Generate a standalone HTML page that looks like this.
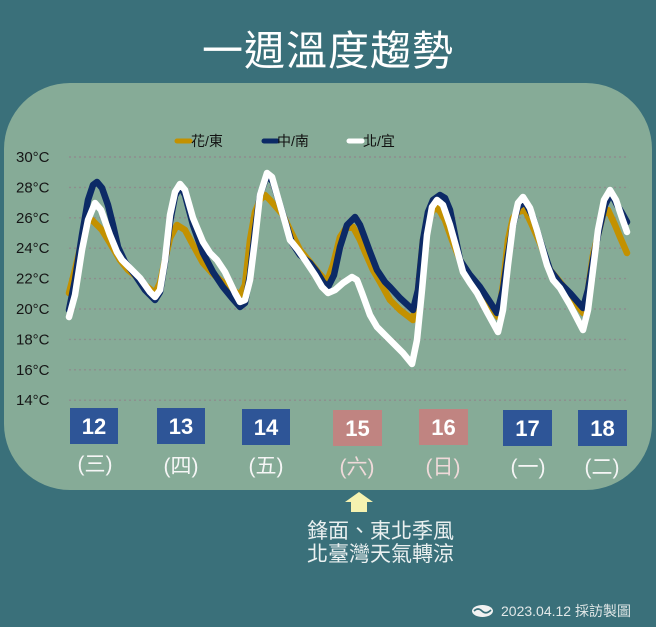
<!DOCTYPE html>
<html>
<head>
<meta charset="utf-8">
<style>
html,body{margin:0;padding:0;background:#3a707a;}
svg{display:block;}
</style>
</head>
<body>
<svg width="656" height="627" viewBox="0 0 656 627" xmlns="http://www.w3.org/2000/svg">
  <rect x="0" y="0" width="656" height="627" fill="#3a707a"/>
  <!-- title -->
  <text x="328" y="65" text-anchor="middle" fill="#ffffff" font-family="'Noto Sans CJK TC','Noto Sans CJK SC',sans-serif" font-size="41" font-weight="400" letter-spacing="1">一週溫度趨勢</text>
  <!-- panel -->
  <rect x="4" y="83" width="648" height="407" rx="66" ry="66" fill="#86ab97"/>

  <!-- legend -->
  <g font-family="'Liberation Sans','Noto Sans CJK TC',sans-serif" font-size="14" fill="#111">
    <line x1="177" y1="141" x2="190" y2="141" stroke="#c39100" stroke-width="5" stroke-linecap="round"/>
    <text x="191" y="146">花/東</text>
    <line x1="264" y1="141" x2="277" y2="141" stroke="#0c2a66" stroke-width="5" stroke-linecap="round"/>
    <text x="277" y="146">中/南</text>
    <line x1="349" y1="141" x2="362" y2="141" stroke="#ffffff" stroke-width="5" stroke-linecap="round"/>
    <text x="363" y="146">北/宜</text>
  </g>

  <!-- gridlines -->
  <g stroke="#8d8d8d" stroke-width="1.4" stroke-dasharray="2 3">
    <line x1="69" y1="157" x2="628" y2="157"/>
    <line x1="69" y1="187.4" x2="628" y2="187.4"/>
    <line x1="69" y1="217.8" x2="628" y2="217.8"/>
    <line x1="69" y1="248.2" x2="628" y2="248.2"/>
    <line x1="69" y1="278.6" x2="628" y2="278.6"/>
    <line x1="69" y1="309" x2="628" y2="309"/>
    <line x1="69" y1="339.4" x2="628" y2="339.4"/>
    <line x1="69" y1="369.8" x2="628" y2="369.8"/>
    <line x1="69" y1="400.2" x2="628" y2="400.2"/>
  </g>
  <!-- y labels -->
  <g font-family="'Liberation Sans',sans-serif" font-size="15" fill="#161616">
    <text x="16" y="162">30°C</text>
    <text x="16" y="192.4">28°C</text>
    <text x="16" y="222.8">26°C</text>
    <text x="16" y="253.2">24°C</text>
    <text x="16" y="283.6">22°C</text>
    <text x="16" y="314">20°C</text>
    <text x="16" y="344.4">18°C</text>
    <text x="16" y="374.8">16°C</text>
    <text x="16" y="405.2">14°C</text>
  </g>

  <!-- series -->
  <g fill="none" stroke-linejoin="round" stroke-linecap="round" stroke-width="6.5">
    <polyline stroke="#c39100" points="69,293 75,270 82,240 88,222 92,220 97,225 102,230 110,243 120,260 128,270 137,277 145,285 155,293 160,283 165,260 170,238 177,225 185,230 193,245 203,263 212,273 220,280 230,288 240,295 245,285 250,240 255,212 260,200 265,195 270,200 277,208 283,215 290,230 300,250 310,262 318,272 327,282 333,265 340,237 346,228 353,227 360,240 365,252 373,270 380,282 390,300 400,310 413,320 418,290 423,240 428,218 433,210 438,208 445,220 452,240 460,260 470,278 480,290 490,305 498,317 503,285 508,240 513,218 518,212 525,210 532,225 540,243 550,270 560,282 570,295 583,313 588,290 593,255 598,235 603,215 608,210 615,225 620,237 627,253"/>
    <polyline stroke="#0c2a66" points="69,310 75,280 82,235 88,200 93,185 97,182 102,188 108,205 113,225 118,247 125,262 135,275 145,290 155,300 160,292 165,262 170,222 175,196 180,186 185,195 193,225 203,253 213,272 223,287 232,298 240,307 245,303 250,275 255,230 260,195 267,175 273,182 280,205 292,243 300,255 310,263 317,272 323,282 328,287 334,275 340,247 347,225 355,217 360,225 363,233 370,252 377,270 385,282 390,287 400,298 413,310 418,290 423,240 428,212 433,200 440,195 445,198 450,210 455,235 460,260 470,275 480,287 490,302 497,313 503,290 508,255 513,225 518,207 525,202 533,217 540,240 550,270 560,283 570,293 583,308 588,290 593,260 598,235 605,205 611,193 617,205 622,213 627,222"/>
    <polyline stroke="#ffffff" points="69,317 75,295 82,250 88,220 95,203 101,210 110,235 117,252 122,260 132,270 140,278 150,292 155,297 160,290 165,260 170,215 175,192 180,184 185,190 193,218 203,242 210,253 217,260 225,272 235,293 240,302 245,300 250,280 255,240 260,195 267,173 272,177 278,198 285,222 290,240 298,250 305,260 315,275 322,287 328,293 335,290 343,283 352,277 357,280 362,293 370,315 377,327 385,335 393,343 403,353 412,364 417,340 422,290 427,235 432,207 437,200 443,205 450,225 457,250 463,272 470,283 477,293 487,312 498,332 503,310 508,265 513,225 518,203 523,197 530,208 537,230 547,265 553,280 560,288 570,305 583,330 588,310 593,270 598,230 604,200 610,190 616,200 622,218 627,232"/>
  </g>

  <!-- day boxes -->
  <g>
    <rect x="70" y="408" width="48" height="36" fill="#2e5597"/>
    <rect x="157" y="408" width="48" height="36" fill="#2e5597"/>
    <rect x="242" y="409" width="48" height="36" fill="#2e5597"/>
    <rect x="333" y="410" width="49" height="36" fill="#c08481"/>
    <rect x="419" y="409" width="49" height="36" fill="#c08481"/>
    <rect x="503" y="410" width="49" height="36" fill="#2e5597"/>
    <rect x="578" y="410" width="49" height="36" fill="#2e5597"/>
  </g>
  <g font-family="'Liberation Sans',sans-serif" font-size="22" font-weight="bold" fill="#ffffff" text-anchor="middle">
    <text x="94" y="434">12</text>
    <text x="181" y="434">13</text>
    <text x="266" y="435">14</text>
    <text x="357.5" y="436">15</text>
    <text x="443.5" y="435">16</text>
    <text x="527.5" y="436">17</text>
    <text x="602.5" y="436">18</text>
  </g>
  <g font-family="'Liberation Sans','Noto Sans CJK TC',sans-serif" font-size="21" text-anchor="middle">
    <text x="95" y="471" fill="#f6f6f6">(三)</text>
    <text x="181" y="473" fill="#f6f6f6">(四)</text>
    <text x="266" y="473" fill="#f6f6f6">(五)</text>
    <text x="357" y="474" fill="#f0dada">(六)</text>
    <text x="443" y="474" fill="#f0dada">(日)</text>
    <text x="528" y="474" fill="#f6f6f6">(一)</text>
    <text x="602" y="474" fill="#f6f6f6">(二)</text>
  </g>

  <!-- arrow -->
  <polygon points="345,502 359,492 373,502" fill="#f5f2b0"/>
  <rect x="351" y="501" width="16" height="11" fill="#f5f2b0"/>

  <!-- annotation -->
  <g font-family="'Liberation Sans','Noto Sans CJK TC',sans-serif" font-size="21" fill="#eaf0f0">
    <text x="307" y="538">鋒面、東北季風</text>
    <text x="307" y="561">北臺灣天氣轉涼</text>
  </g>

  <!-- footer -->
  <ellipse cx="482.5" cy="611" rx="10.5" ry="6" fill="#f2f2f2"/>
  <path d="M474,611 Q478,607 482,611 Q486,615 491,610" stroke="#3a707a" stroke-width="1.6" fill="none"/>
  <text x="501" y="616" font-family="'Liberation Sans','Noto Sans CJK TC',sans-serif" font-size="14" fill="#e2e8e8">2023.04.12 採訪製圖</text>
</svg>
</body>
</html>
